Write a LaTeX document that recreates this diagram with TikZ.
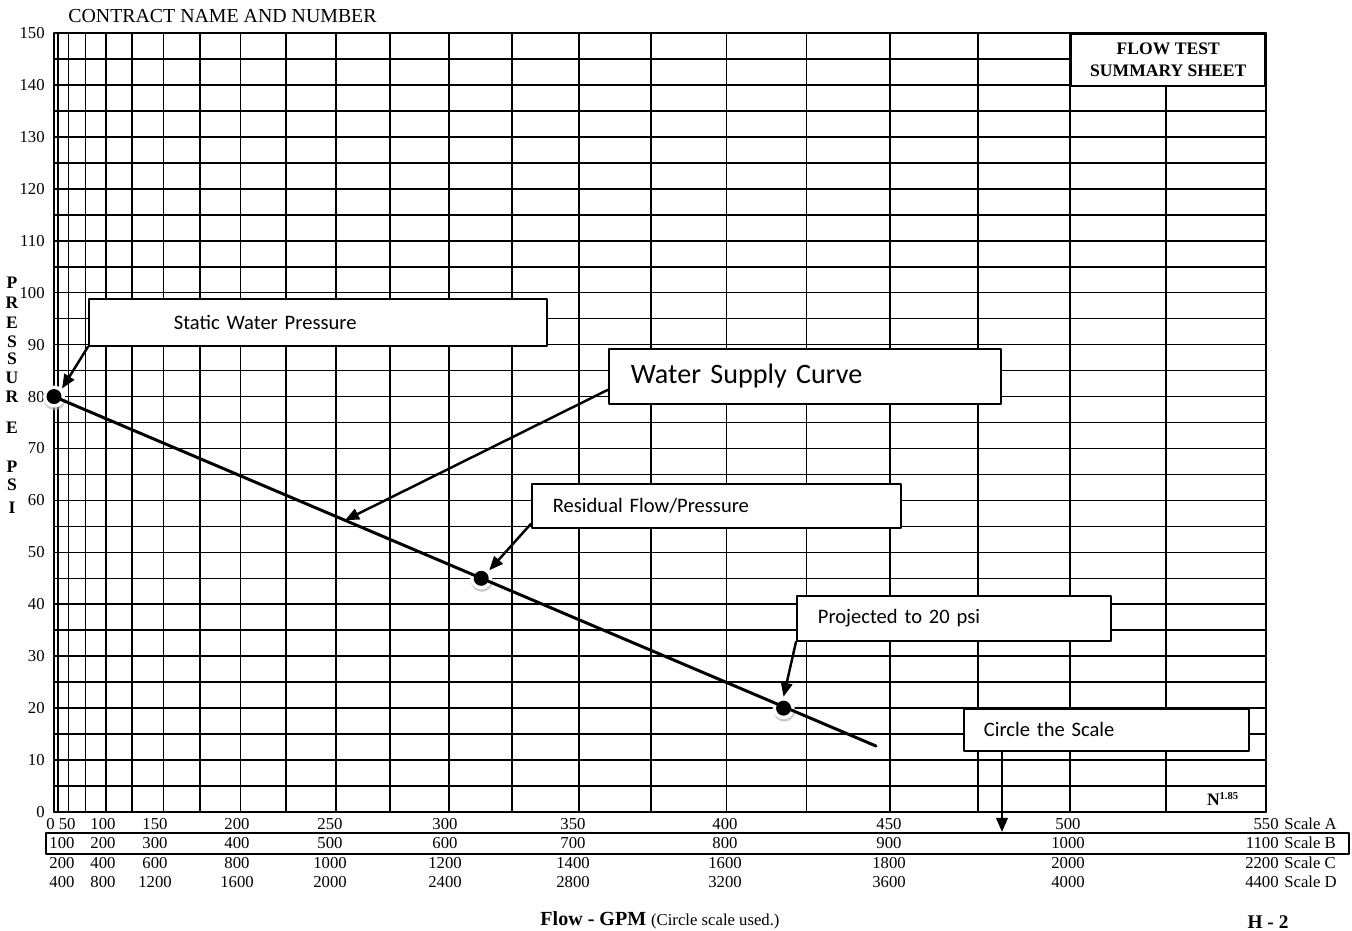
\documentclass[tikz,border=0pt]{standalone}
\usepackage{fontspec}
\setmainfont{Liberation Serif}
\newfontfamily\calibri{Carlito}
\usetikzlibrary{calc}
\usetikzlibrary{arrows.meta,shadows}

\begin{document}
\begin{tikzpicture}[
  x=0.02cm,y=-0.02cm,
  line cap=round,line join=round,
  declare function={qx(\q)=54+1212*(\q/550)^1.85; py(\p)=812-5.193*\p;},
  gridline/.style={line width=0.9pt},
  num/.style={inner sep=0pt,font=\fontsize{9.5}{11}\selectfont},
  vlet/.style={inner sep=0pt,font=\fontsize{10}{12}\selectfont\bfseries},
  titlebox/.style={draw,fill=white,line width=0.9pt,inner sep=0pt,align=center,
    font=\fontsize{10}{12.5}\selectfont\bfseries},
  callout/.style={draw,fill=white,line width=1pt,anchor=north west,align=left,
    inner ysep=0pt,inner xsep=0.42cm,font=\calibri\fontsize{11.7}{14}\selectfont},
  callarrow/.style={line width=1.4pt,-{Triangle[length=8pt,width=6.5pt]}},
  dot/.style={circle,inner sep=0pt,minimum size=0.44cm,fill=white,
    drop shadow={shadow xshift=0.4pt,shadow yshift=-1.4pt,fill=gray!70,opacity=0.6},
    path picture={\fill[black] (path picture bounding box.center) circle[radius=0.15cm];}},
  supply/.style={line width=1.7pt}
]
  \useasboundingbox (0,0) rectangle (1352,930);

  % Grid (N^1.85 paper)
  \foreach \p in {0,5,...,150}
    \draw[gridline] (54,{py(\p)}) -- ({qx(550)},{py(\p)});
  \draw[gridline] (54,{py(0)}) -- (54,{py(150)});
  \foreach \q in {25,50,...,550}
    \draw[gridline] ({qx(\q)},{py(0)}) -- ({qx(\q)},{py(150)});

  \node[titlebox,minimum width=3.88cm,minimum height=1.04cm,anchor=north east]
    (title) at ({qx(550)},{py(150)}) {FLOW TEST\\SUMMARY SHEET};
  \node[inner sep=0pt,font=\fontsize{10}{12}\selectfont\bfseries]
    (npow) at (1223,799) {N\textsuperscript{\fontsize{6}{7}\selectfont 1.85}};
  \node[anchor=west,inner sep=0pt,font=\fontsize{11.3}{13}\selectfont]
    (contract) at (68,16) {CONTRACT NAME AND NUMBER};

  % Pressure axis
  \foreach \p in {0,10,...,150}
    \node[num,anchor=east] (p\p) at (45,{py(\p)}) {\p};
  \foreach \l/\yy [count=\i] in {P/283,R/303,E/323,S/342,S/359,U/378,R/397,E/428,P/467,S/485,I/508}
    \node[vlet] (v\i) at (12,\yy) {\l};

  % Flow scales
  \node[draw,line width=1.4pt,minimum width=26.06cm,minimum height=0.42cm,
    anchor=north west,inner sep=0pt] (sbox) at (45,832) {};
  \node[num,anchor=west] (a1) at (46,824) {0 50};
  \foreach \xx [count=\i] in {62,103,155,237,330,445,573,725,889,1068}{
    \pgfmathtruncatemacro\va{50*\i}
    \pgfmathtruncatemacro\vb{100*\i}
    \pgfmathtruncatemacro\vc{200*\i}
    \pgfmathtruncatemacro\vd{400*\i}
    \ifnum\i>1 \node[num] (a\i) at (\xx,824) {\va};\fi
    \node[num] (b\i) at (\xx,843) {\vb};
    \node[num] (c\i) at (\xx,863) {\vc};
    \node[num] (d\i) at (\xx,882) {\vd};
  }
  \foreach \v/\s/\yy in {550/A/824,1100/B/843,2200/C/863,4400/D/882}{
    \node[num,anchor=east] (n\s) at (1279,\yy) {\v};
    \node[num,anchor=west] (s\s) at (1284,\yy) {Scale \s};
  }
  \node[inner sep=0pt] (flow) at (660,920)
    {\fontsize{11.4}{13}\selectfont\bfseries Flow - GPM
     \fontsize{9.5}{11}\selectfont\mdseries (Circle scale used.)};
  \node[inner sep=0pt,font=\fontsize{11}{13}\selectfont\bfseries] (sheet) at (1268,922) {H - 2};

  % Test points and supply curve
  \node[dot] (sdot) at (54,{py(80)}) {};
  \node[dot] (rdot) at ({qx(313)},{py(45)}) {};
  \node[dot] (pdot) at ({qx(418)},{py(20)}) {};
  \coordinate (lend) at (876,746);
  \draw[supply] (sdot.center) -- (lend);
  \coordinate (onl) at ($(sdot)!0.354!(lend)$);

  % Callouts
  \node[callout,inner xsep=1.7cm,text width=5.76cm,minimum height=0.94cm]
    (static) at (88,298) {Static Water Pressure};
  \node[callout,inner xsep=0.44cm,text width=6.96cm,minimum height=1.1cm,
    font=\calibri\fontsize{16}{19}\selectfont] (water) at (608,348) {Water Supply Curve};
  \node[callout,text width=6.54cm,minimum height=0.88cm]
    (resid) at (531,483) {Residual Flow/Pressure};
  \node[callout,text width=5.44cm,minimum height=0.9cm]
    (proj) at (796,595) {Projected to 20 psi};
  \node[callout,inner xsep=0.4cm,text width=4.9cm,minimum height=0.84cm]
    (circ) at (963,708) {Circle the Scale};

  \draw[callarrow] (static.south west) -- (sdot.north east);
  \draw[callarrow] ([yshift=0.3cm]water.south west) -- (onl);
  \draw[callarrow] ([yshift=0.1cm]resid.south west) -- (rdot.north east);
  \draw[callarrow] (proj.south west) -- (pdot.north);
  \coordinate (cstart) at ([xshift=0.78cm]circ.south west);
  \draw[callarrow] (cstart) -- (cstart |- sbox.north);
\end{tikzpicture}
\end{document}
